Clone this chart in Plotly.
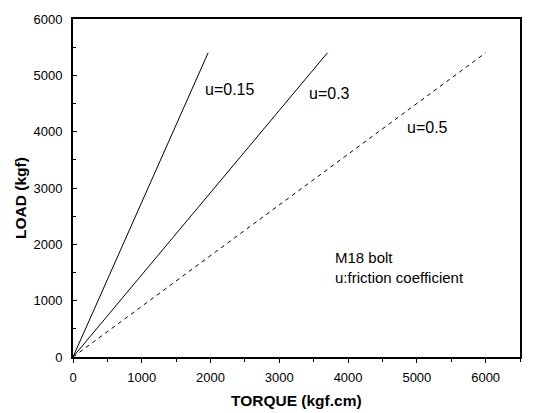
import plotly.graph_objects as go

# Data (torque in kgf.cm, load in kgf)
torque_u015 = [0, 1965]
load_u015 = [0, 5400]
torque_u03 = [0, 3700]
load_u03 = [0, 5400]
torque_u05 = [0, 6000]
load_u05 = [0, 5400]

label_texts = ["u=0.15", "u=0.3", "u=0.5"]
label_x = [1890, 3400, 4830]
label_y = [4740, 4670, 4080]

note_lines = ["M18 bolt", "u:friction coefficient"]
note_x = 3780
note_y = 1585

x_ticks = [0, 1000, 2000, 3000, 4000, 5000, 6000]
y_ticks = [0, 1000, 2000, 3000, 4000, 5000, 6000]

FONT = "Liberation Sans, Arial, sans-serif"

fig = go.Figure()
fig.add_trace(go.Scatter(x=torque_u015, y=load_u015, mode="lines",
                         line=dict(color="black", width=1), showlegend=False))
fig.add_trace(go.Scatter(x=torque_u03, y=load_u03, mode="lines",
                         line=dict(color="black", width=1), showlegend=False))
fig.add_trace(go.Scatter(x=torque_u05, y=load_u05, mode="lines",
                         line=dict(color="black", width=1, dash="4px,4px"), showlegend=False))

for t, x, y in zip(label_texts, label_x, label_y):
    fig.add_annotation(x=x, y=y, text=t, showarrow=False, xanchor="left", yanchor="middle",
                       font=dict(family=FONT, size=16, color="black"))
fig.add_annotation(x=note_x, y=note_y, text="<br>".join(note_lines), showarrow=False,
                   xanchor="left", yanchor="middle", align="left",
                   font=dict(family=FONT, size=15, color="black"))

# axis titles
fig.add_annotation(xref="paper", yref="paper", x=(297 - 73) / 448, y=-(401.5 - 357) / 344,
                   text="<b>TORQUE (kgf.cm)</b>", showarrow=False, xanchor="center", yanchor="middle",
                   font=dict(family=FONT, size=15.5, color="black"))
fig.add_annotation(xref="paper", yref="paper", x=-(73 - 21) / 448, y=(357 - 195) / 344,
                   text="<b>LOAD (kgf)</b>", showarrow=False, xanchor="center", yanchor="middle",
                   textangle=-90, font=dict(family=FONT, size=15.5, color="black"))

fig.update_layout(
    width=534, height=413,
    margin=dict(l=73, r=13, t=13, b=56),
    paper_bgcolor="white", plot_bgcolor="white",
    font=dict(family=FONT, size=13, color="black"),
)
fig.update_xaxes(range=[0, 6500], tickvals=x_ticks, showgrid=False, zeroline=False,
                 showline=True, linecolor="black", linewidth=2, mirror=True,
                 ticks="outside", ticklen=4, tickwidth=1.2, tickcolor="black",
                 minor=dict(ticks="outside", ticklen=3, tickwidth=1, tickcolor="black", dtick=500, showgrid=False),
                 tickfont=dict(family=FONT, size=13), ticklabelstandoff=3)
fig.update_yaxes(range=[0, 6000], tickvals=y_ticks, showgrid=False, zeroline=False,
                 showline=True, linecolor="black", linewidth=2, mirror=True,
                 ticks="inside", ticklen=4, tickwidth=1.2, tickcolor="black",
                 minor=dict(ticks="inside", ticklen=3, tickwidth=1, tickcolor="black", dtick=500, showgrid=False),
                 tickfont=dict(family=FONT, size=13), ticklabelstandoff=6)

fig.write_html("out.html")
